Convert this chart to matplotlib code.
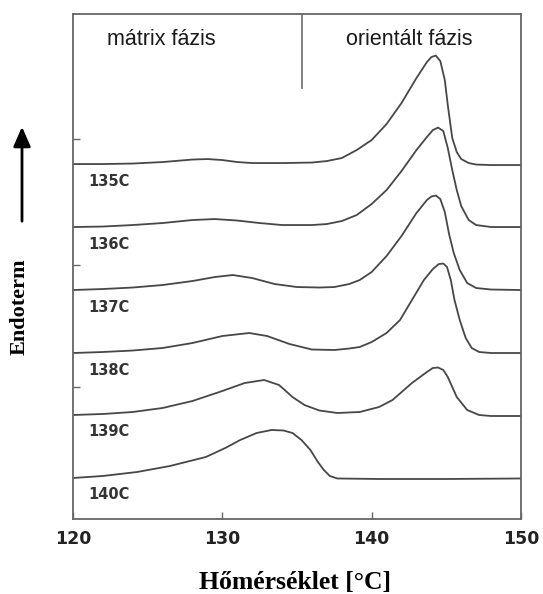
import matplotlib
matplotlib.use("Agg")
import matplotlib.pyplot as plt
from matplotlib.patches import FancyArrowPatch

# ---- data (temperature in °C, heat flow in arbitrary stacked units) ----
t135 = [120, 122, 124, 126, 128, 129, 130, 131, 132, 134, 136, 137, 138, 139, 140, 141, 142, 143,
        143.7, 144.0, 144.3, 144.6, 144.9, 145.1, 145.4, 145.7, 146.0, 146.5, 147, 148, 150]
h135 = [355, 355, 355.5, 357, 359.5, 360, 359, 357, 356, 356, 356.5, 358, 361, 369, 379, 395, 416, 441,
        457, 462, 463.5, 458, 439, 414, 381, 367, 360, 356, 354.5, 354, 354]

t136 = [120, 122, 124, 126, 128, 129.5, 131, 132.5, 134, 136, 137, 138, 139, 140, 141, 142, 143,
        143.7, 144.1, 144.45, 144.8, 145.1, 145.4, 145.7, 146.0, 146.5, 147, 148, 150]
h136 = [292, 292.5, 294, 296, 299, 300, 298.5, 296, 294, 294, 295, 298, 304, 315, 329, 348, 369,
        382, 389, 391.5, 388, 371, 349, 329, 313, 299, 294, 292, 292]

t137 = [120, 122, 124, 126, 128, 129.5, 130.7, 132, 133.5, 135, 136.5, 137.5, 138.5, 139.2, 140, 141,
        142, 143, 143.7, 144.0, 144.3, 144.6, 144.9, 145.2, 145.5, 145.9, 146.4, 147, 148, 150]
h137 = [229, 230, 231.5, 234, 238, 242, 244, 241, 235, 232, 231.5, 232, 235, 239, 247, 263,
        283, 306, 319, 322.5, 323.5, 320, 307, 284, 266, 249, 236, 231, 229.5, 229]

t138 = [120, 122, 124, 126, 128, 130, 131.8, 133, 134.5, 136, 137.5, 138.5, 139.2, 140, 141, 141.9,
        142.7, 143.5, 144.1, 144.5, 144.8, 145.05, 145.3, 145.55, 145.9, 146.3, 146.7, 147.2, 148, 150]
h138 = [166, 167, 168.5, 171, 176, 183, 186, 183, 175, 169.5, 169, 170.5, 172, 177, 186, 199,
        219, 239, 250, 255, 255.5, 252, 239, 219, 199, 181, 171, 167, 166, 166]

t139 = [120, 122, 124, 126, 128, 130, 131.5, 132.8, 133.8, 134.7, 135.5, 136.5, 137.7, 139.2, 140.5,
        141.4, 142.7, 143.7, 144.1, 144.45, 144.8, 145.1, 145.7, 146.4, 147.2, 148, 150]
h139 = [104, 105, 107, 111, 118, 128, 136, 139, 134, 122, 114, 108.5, 106, 107, 112,
        119, 136, 147, 151, 151.5, 149, 142, 122, 109, 104, 103, 103]

t140 = [120, 122, 124.3, 126.5, 128.9, 130.2, 131.2, 132.3, 133.3, 134.1, 134.7, 135.3, 135.9, 136.4,
        136.8, 137.2, 137.7, 140.5, 145, 150]
h140 = [41, 43, 47, 53, 62, 71, 79, 86, 89, 88.5, 86, 79, 69, 57,
        49, 43, 40.5, 40, 40, 40.5]

temps_x = [t135, t136, t137, t138, t139, t140]
heats_y = [h135, h136, h137, h138, h139, h140]
series_labels = ["135C", "136C", "137C", "138C", "139C", "140C"]

xticks = [120, 130, 140, 150]
xtick_labels = ["120", "130", "140", "150"]
yticks = [132, 254, 380]
region_labels = ["mátrix fázis", "orientált fázis"]
region_x = [125.9, 142.5]
divider_T = 135.35

# ---- figure ----
fig = plt.figure(figsize=(5.43, 5.94), dpi=100)
ax = fig.add_axes([0.1344, 0.1263, 0.825, 0.850])

line_col = "#474747"
for tx, hy, lab in zip(temps_x, heats_y, series_labels):
    ax.plot(tx, hy, color=line_col, lw=1.3, solid_joinstyle="round", solid_capstyle="round")
    ax.text(121.0, hy[0] - 17, lab, fontsize=10.5, fontweight="bold", color="#333333",
            family="DejaVu Sans", ha="left", va="center")

ax.set_xlim(120, 150)
ax.set_ylim(0, 505)

ax.set_xticks(xticks)
ax.set_xticklabels(xtick_labels, fontsize=12.5, fontweight="bold", family="DejaVu Sans", color="#222222")
ax.set_yticks(yticks)
ax.set_yticklabels([])
ax.tick_params(axis="both", direction="in", length=5, width=1.0, color="#666666")
ax.tick_params(axis="x", pad=8)

for sp in ax.spines.values():
    sp.set_color("#666666")
    sp.set_linewidth(1.3)

# region divider and labels
ax.plot([divider_T, divider_T], [431, 505], color="#777777", lw=1.3)
for lab, xt in zip(region_labels, region_x):
    ax.text(xt, 480, lab, fontsize=15.5, family="Liberation Sans", color="#1a1a1a",
            ha="center", va="center")

# axis titles
fig.text(295 / 543, 12 / 594, "Hőmérséklet [°C]", family="Liberation Serif", fontweight="bold",
         fontsize=18.5, ha="center", va="center", color="black")
fig.text(20 / 543, (594 - 307) / 594, "Endoterm", family="Liberation Serif", fontweight="bold",
         fontsize=16, rotation=90, ha="center", va="center", color="black")

arrow = FancyArrowPatch((22 / 543, (594 - 224) / 594), (22 / 543, (594 - 124) / 594),
                        transform=fig.transFigure, arrowstyle="-|>,head_length=0.8,head_width=0.35",
                        mutation_scale=15, lw=2.0, color="black")
fig.add_artist(arrow)

fig.savefig("out.png", dpi=100)
